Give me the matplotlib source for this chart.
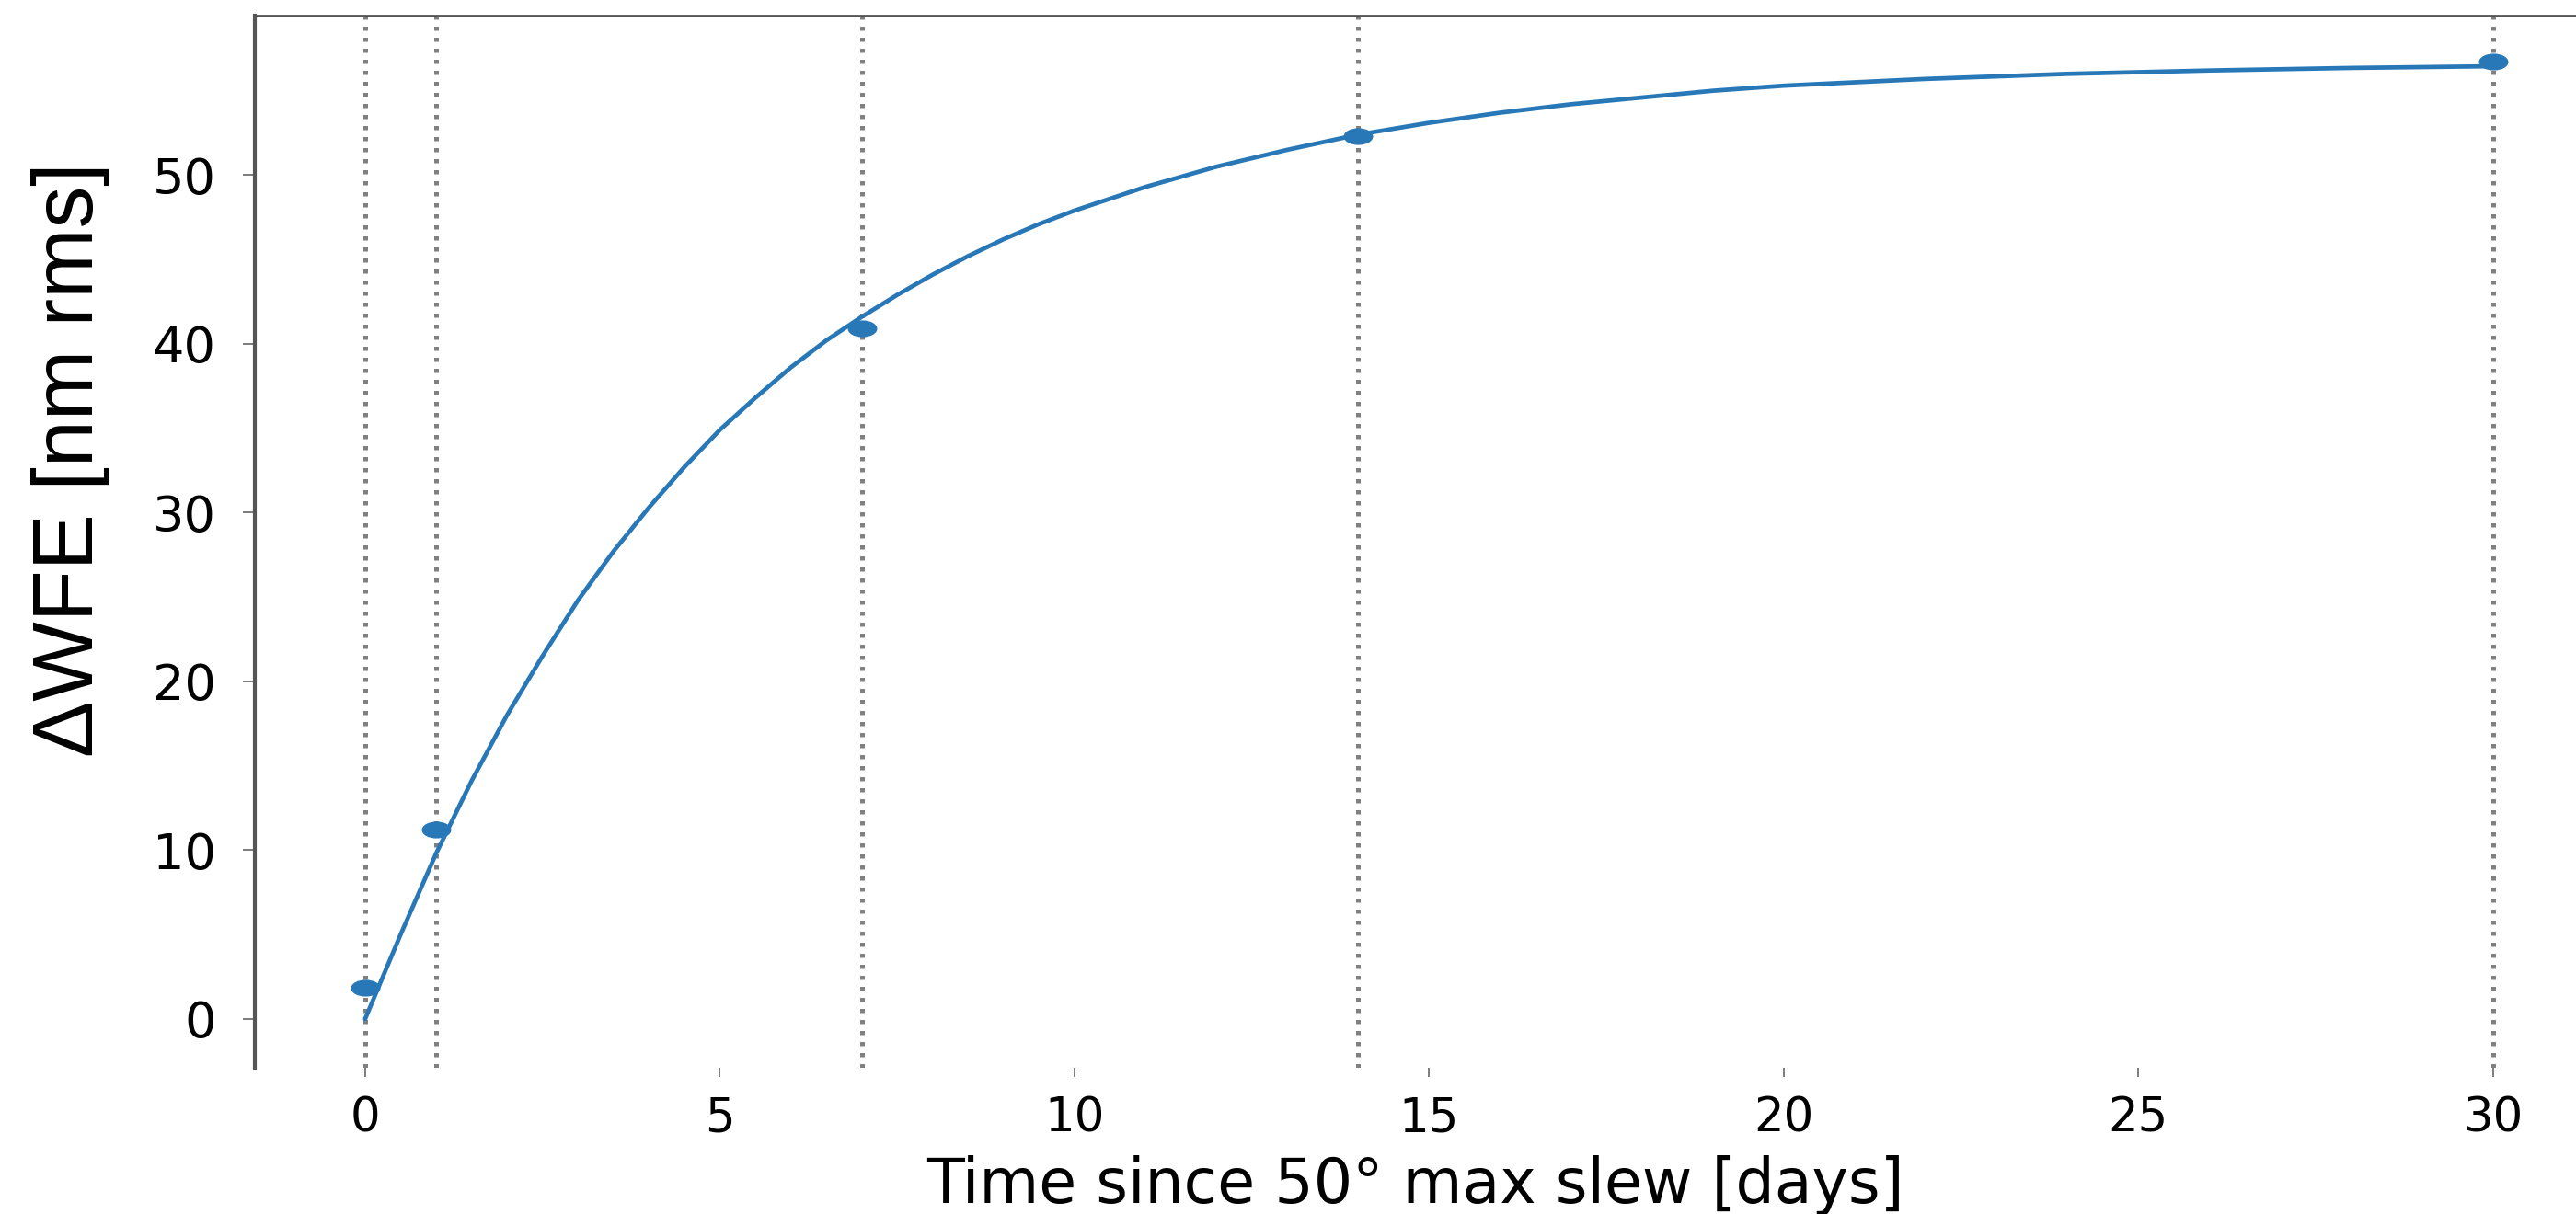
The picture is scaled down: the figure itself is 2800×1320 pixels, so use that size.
import matplotlib
matplotlib.use("Agg")
import matplotlib.pyplot as plt
from matplotlib.path import Path
from matplotlib.transforms import Affine2D

# measured points (days after slew, delta WFE in nm rms)
days = [0, 1, 7, 14, 30]
wfe = [1.85, 11.2, 40.9, 52.3, 56.7]

# fitted curve
fit_days = [0, 0.5, 1, 1.5, 2, 2.5, 3, 3.5, 4, 4.5, 5, 5.5, 6, 6.5, 7, 7.5, 8, 8.5,
            9, 9.5, 10, 11, 12, 13, 14, 15, 16, 17, 18, 19, 20, 22, 24, 26, 28, 30]
fit_wfe = [0.0, 5.0, 9.8, 14.1, 18.0, 21.5, 24.8, 27.7, 30.3, 32.7, 34.9, 36.8,
           38.6, 40.2, 41.6, 42.9, 44.1, 45.2, 46.2, 47.1, 47.9, 49.3, 50.5, 51.5,
           52.4, 53.1, 53.7, 54.2, 54.6, 55.0, 55.3, 55.7, 56.0, 56.2, 56.35, 56.45]

# epochs marked with dotted lines
epochs = [0, 1, 7, 14, 30]

xticks = [0, 5, 10, 15, 20, 25, 30]
yticks = [0, 10, 20, 30, 40, 50]

blue = "#2878b8"

fig = plt.figure(figsize=(28, 13.2), dpi=100)
ax = fig.add_axes([0.0989, 0.1205, 0.9011, 0.8666])

for d in epochs:
    ax.axvline(d, color="#808080", lw=3.6, ls=(0, (0.9, 1.5)), zorder=1)

ax.plot(fit_days, fit_wfe, color=blue, lw=3.4, zorder=3,
        solid_joinstyle="round", solid_capstyle="round")

# flattened dots like the original markers
ell = Path.unit_circle().transformed(Affine2D().scale(1.0, 0.55))
ax.plot(days, wfe, ls="none", marker=ell, ms=22, color=blue, zorder=4)

ax.set_xlim(-1.556, 31.17)
ax.set_ylim(-2.89, 59.45)
ax.set_xticks(xticks)
ax.set_yticks(yticks)

ax.spines["bottom"].set_visible(False)
ax.spines["right"].set_visible(False)
ax.spines["left"].set_color("#555555")
ax.spines["left"].set_linewidth(3)
ax.spines["top"].set_color("#555555")
ax.spines["top"].set_linewidth(2)

ax.tick_params(axis="y", length=9.5, width=1.2, color="#666666", pad=21,
               labelsize=39)
ax.tick_params(axis="x", length=7, width=1.2, color="#666666", pad=15,
               labelsize=37)
for lab in ax.get_yticklabels() + ax.get_xticklabels():
    lab.set_fontfamily("DejaVu Sans")

ax.set_xlabel("Time since 50° max slew [days]", fontsize=48, family="DejaVu Sans")
ax.xaxis.set_label_coords(0.5, -0.083)
ax.set_ylabel("ΔWFE [nm rms]", fontsize=66, family="Liberation Sans")
ax.yaxis.set_label_coords(-0.0622, 0.578)

fig.savefig("out.png", dpi=100, facecolor="white")
